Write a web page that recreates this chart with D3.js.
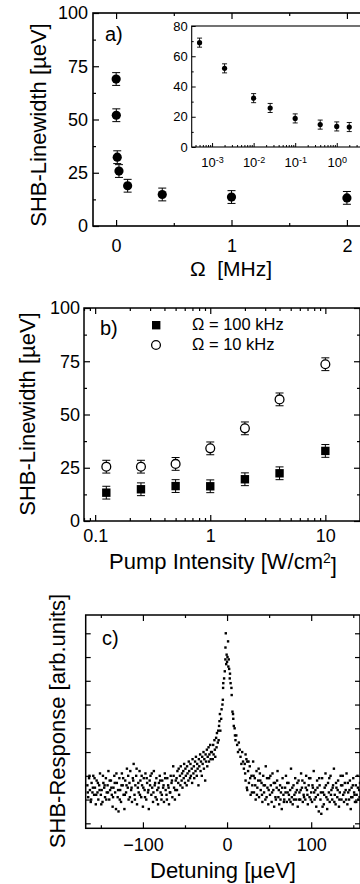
<!DOCTYPE html>
<html>
<head>
<meta charset="utf-8">
<script src="https://cdn.jsdelivr.net/npm/d3@7"></script>
<style>
  body { margin: 0; background: #fff; }
  svg { display: block; }
</style>
</head>
<body>
<script>
// ---- panel a: linewidth vs modulation frequency ----
const omegaMHz = [0.0005, 0.002, 0.01, 0.025, 0.1, 0.4, 1, 2];
const linewidthA = [69, 52, 32.3, 25.8, 18.9, 14.8, 13.6, 13.2];
const errA = [3, 3, 3, 3, 3, 3, 3, 3];

// ---- panel b: linewidth vs pump intensity ----
const pumpIntensity = [0.125, 0.25, 0.5, 1, 2, 4, 10];
const lw100kHz = [13.3, 14.9, 16.4, 16.3, 19.6, 22.4, 32.9];
const lw10kHz = [25.5, 25.5, 26.8, 34.1, 43.5, 57.1, 73.6];
const errB = [3, 3, 3, 3, 3, 3, 3];
const legendB = ['\u03a9 = 100 kHz', '\u03a9 = 10 kHz'];

// ---- panel c: SHB response scan [detuning ueV, response arb.] ----
const leftWing = [
  [-166,1.6],[-165,1.1],[-164,1.9],[-163,1.4],[-162,0.9],[-161,1.7],[-160,1.3],[-159,2.0],[-158,1.2],[-157,1.5],
  [-156,0.8],[-155,1.8],[-154,1.3],[-153,1.0],[-152,1.6],[-151,2.1],[-150,1.2],[-149,1.4],[-148,0.9],[-147,1.7],
  [-146,1.5],[-145,1.1],[-144,1.9],[-143,1.3],[-142,1.6],[-141,2.2],[-140,1.0],[-139,1.4],[-138,1.8],[-137,1.2],
  [-136,0.7],[-135,1.5],[-134,2.0],[-133,1.3],[-132,0.6],[-131,1.7],[-130,1.1],[-129,0.5],[-128,1.9],[-127,1.4],
  [-126,0.9],[-125,2.1],[-124,1.6],[-123,1.2],[-122,0.6],[-121,1.8],[-120,1.3],[-119,2.3],[-118,1.5],[-117,1.0],
  [-116,1.7],[-115,2.2],[-114,1.4],[-113,0.9],[-112,1.9],[-111,2.5],[-110,1.2],[-109,1.6],[-108,2.0],[-107,0.8],
  [-106,1.5],[-105,1.3],[-104,2.2],[-103,1.8],[-102,1.1],[-101,1.6],[-100,0.7],[-99,1.9],[-98,1.4],[-97,2.1],
  [-96,1.0],[-95,1.7],[-94,1.3],[-93,0.6],[-92,1.8],[-91,2.0],[-90,1.2],[-89,1.5],[-88,0.9],[-87,2.2],
  [-86,1.6],[-85,1.1],[-84,1.9],[-83,1.4],[-82,0.8],[-81,1.7],[-80,2.0],[-79,1.3],[-78,1.0],[-77,1.8],
  [-76,1.5],[-75,0.9],[-74,2.1],[-73,1.4],[-72,1.2],[-71,1.9],[-70,1.6],[-69,0.8],[-68,1.3],[-67,2.0],
  [-66,1.7],[-65,1.1],[-64,2.4],[-63,1.5],[-62,1.0],[-61,1.8],
  [-165.5,1.3],[-163.5,2.0],[-161.5,1.0],[-159.5,1.5],[-157.5,1.9],[-155.5,1.2],[-153.5,1.7],[-151.5,1.4],
  [-149.5,0.8],[-147.5,2.0],[-145.5,1.6],[-143.5,1.0],[-141.5,1.3],[-139.5,1.8],[-137.5,1.5],[-135.5,1.1],
  [-133.5,1.7],[-131.5,2.1],[-129.5,1.4],[-127.5,1.0],[-125.5,1.6],[-123.5,1.9],[-121.5,1.2],[-119.5,1.6],
  [-117.5,2.0],[-115.5,1.1],[-113.5,1.5],[-111.5,1.8],[-109.5,1.0],[-107.5,2.3],[-105.5,1.7],[-103.5,1.2],
  [-101.5,2.0],[-99.5,1.5],[-97.5,1.1],[-95.5,1.9],[-93.5,1.4],[-91.5,1.6],[-89.5,2.1],[-87.5,1.3],
  [-85.5,1.7],[-83.5,1.0],[-81.5,1.5],[-79.5,1.8],[-77.5,1.2],[-75.5,1.6],[-73.5,1.9],[-71.5,1.0],
  [-69.5,1.5],[-67.5,1.3],[-65.5,1.8],[-63.5,2.0],[-61.5,1.4],
  [-60,1.9],[-59.5,1.4],[-59,2.2],[-58,1.7],[-57.5,2.3],[-57,1.2],[-56,2.0],[-55.5,1.6],[-55,2.4],[-54,1.8],
  [-53.5,2.1],[-53,1.5],[-52,2.2],[-51.5,1.9],[-51,2.5],[-50,1.7],[-49.5,2.3],[-49,2.0],[-48,1.6],[-47.5,2.4],
  [-47,2.1],[-46,1.8],[-45.5,2.6],[-45,2.2],[-44,1.9],[-43.5,2.5],[-43,2.0],[-42,2.3],[-41.5,1.7],[-41,2.7],
  [-40,2.1],[-39.5,2.4],[-39,1.9],[-38,2.6],[-37.5,2.2],[-37,2.8],[-36,2.0],[-35.5,2.5],[-35,2.3],[-34,1.6],
  [-33.5,2.7],[-33,2.4],[-32,2.9],[-31.5,2.2],[-31,2.6],[-30,2.0],[-29.5,2.8],[-29,2.5],[-28,3.0],[-27.5,2.3],
  [-27,2.7],[-26,1.8],[-25.5,2.9],[-25,2.6],[-24,3.1],[-23.5,2.4],[-23,2.8],[-22,3.2],[-21.5,2.6],[-21,2.9],
  [-20,3.3],[-19.5,2.7],[-19,3.0]
];
const peakPoints = [
  [-18,3.0],[-17,2.7],[-16.5,3.3],[-16,2.9],[-15,3.5],[-14.5,3.1],[-14,2.8],[-13,3.6],[-12.5,3.2],[-12,3.8],
  [-11,3.4],[-10.5,3.9],[-10,3.5],[-9.5,4.1],[-9,4.3],[-8.5,4.6],[-8,3.9],[-7,4.4],[-6.5,4.8],[-5.5,5.0],
  [-5,5.2],[-4.7,5.7],[-4.5,5.9],[-3.5,6.1],[-2.7,6.4],[-2,6.9],[-1.9,7.4],[-1.5,8.0],[-1,6.7],[-0.5,7.1],
  [0,6.8],[0.5,7.0],[1.2,7.66],[1.5,6.6],[2,6.9],[2.5,6.5],[3.2,6.1],[3.5,6.3],[4.2,5.9],[5.2,5.7],
  [5.5,5.4],[6.4,4.7],[7.1,4.6],[7.4,4.4],[8,4.1],[9,4.0],[9.4,3.7],[10,3.5],[11,3.7],[12,3.3],
  [13,3.0],[14,3.4],[15,3.1],[16,2.8],[17,2.5],[18,3.0],[19,2.6],[20,2.3],[22,2.9],[24,2.6]
];
const rightWing = [
  [21,2.5],[22,1.8],[23,2.7],[24,1.4],[25,2.2],[26,1.7],[27,2.4],[28,1.2],[29,2.0],[30,1.6],
  [31,2.6],[32,1.3],[33,1.9],[34,1.0],[35,2.2],[36,1.5],[37,1.8],[38,1.1],[39,2.1],[40,1.4],
  [41,1.7],[42,0.9],[43,2.0],[44,1.3],[45,1.6],[46,2.4],[47,1.1],[48,1.5],[49,0.8],[50,1.9],
  [51,1.2],[52,1.6],[53,0.9],[54,2.1],[55,1.4],[56,0.7],[57,1.7],[58,1.0],[59,1.5],[60,2.2],
  [61,1.1],[62,0.8],[63,1.6],[64,1.3],[65,0.6],[66,1.9],[67,1.2],[68,1.0],[69,1.5],[70,2.0],
  [71,0.9],[72,1.3],[73,1.7],[74,1.0],[75,1.4],[76,2.3],[77,1.1],[78,0.8],[79,1.6],[80,1.2],
  [81,1.9],[82,1.0],[83,1.4],[84,0.7],[85,1.8],[86,1.3],[87,1.0],[88,2.1],[89,1.5],[90,0.9],
  [91,1.2],[92,1.7],[93,1.0],[94,2.0],[95,1.4],[96,0.8],[97,1.6],[98,1.1],[99,1.9],[100,1.3],
  [101,0.9],[102,1.5],[103,2.2],[104,1.0],[105,1.4],[106,0.7],[107,1.8],[108,1.2],[109,0.5],[110,1.6],
  [111,1.0],[112,0.4],[113,1.9],[114,1.3],[115,0.8],[116,1.5],[117,2.1],[118,1.1],[119,0.6],[120,1.7],
  [121,1.3],[122,0.9],[123,2.0],[124,1.4],[125,1.0],[126,1.6],[127,2.3],[128,1.2],[129,0.8],[130,1.5],
  [131,1.1],[132,1.8],[133,0.7],[134,1.3],[135,2.0],[136,1.0],[137,1.6],[138,1.2],[139,0.9],[140,1.7],
  [141,1.4],[142,2.1],[143,0.8],[144,1.3],[145,1.0],[146,1.8],[147,0.6],[148,1.5],[149,1.1],[150,1.9],
  [151,1.3],[152,0.9],[153,1.6],[154,1.2],[155,2.0],[156,1.0],[157,1.4],[158,1.7],
  [21.5,2.1],[23.5,1.5],[25.5,2.6],[27.5,1.9],[29.5,1.3],[31.5,2.0],[33.5,1.6],[35.5,1.2],[37.5,2.3],[39.5,1.8],
  [41.5,1.2],[43.5,1.6],[45.5,1.0],[47.5,1.9],[49.5,1.4],[51.5,2.0],[53.5,1.3],[55.5,1.7],[57.5,1.1],[59.5,1.8],
  [61.5,1.4],[63.5,1.0],[65.5,1.5],[67.5,0.9],[69.5,1.3],[71.5,1.7],[73.5,1.2],[75.5,0.9],[77.5,1.5],[79.5,1.0],
  [81.5,1.3],[83.5,1.7],[85.5,1.0],[87.5,1.4],[89.5,1.8],[91.5,1.1],[93.5,1.5],[95.5,1.2],[97.5,1.9],[99.5,1.0],
  [101.5,1.6],[103.5,1.3],[105.5,1.1],[107.5,1.5],[109.5,1.9],[111.5,1.3],[113.5,0.7],[115.5,1.2],[117.5,1.6],[119.5,1.0],
  [121.5,1.9],[123.5,1.2],[125.5,1.5],[127.5,0.9],[129.5,1.7],[131.5,1.4],[133.5,1.0],[135.5,1.6],[137.5,2.0],[139.5,1.3],
  [141.5,1.0],[143.5,1.7],[145.5,1.4],[147.5,1.1],[149.5,1.6],[151.5,1.2],[153.5,0.9],[155.5,1.5],[157.5,1.1]
];

const FONT = '"Liberation Sans", Arial, Helvetica, sans-serif';

const svg = d3.select('body').append('svg')
  .attr('width', 360)
  .attr('height', 884)
  .attr('font-family', FONT);

// inward-pointing axis helper (major + optional minor ticks)
function addAxis(parent, axisGen, scale, pos, opt) {
  const horiz = axisGen === d3.axisBottom || axisGen === d3.axisTop;
  const tr = horiz ? `translate(0,${pos})` : `translate(${pos},0)`;
  const g = parent.append('g').attr('transform', tr)
    .call(axisGen(scale)
      .tickValues(opt.major)
      .tickSize(-(opt.size || 6))
      .tickPadding(opt.pad || 4)
      .tickFormat(opt.format || (() => '')));
  g.select('.domain').remove();
  g.attr('font-family', FONT).attr('font-size', opt.font || 18);
  g.selectAll('line').attr('stroke-width', opt.lw || 1.2);
  g.selectAll('text').attr('fill', '#000');
  if (opt.minor) {
    const m = parent.append('g').attr('transform', tr)
      .call(axisGen(scale).tickValues(opt.minor).tickSize(-(opt.minorSize || 3)).tickFormat(() => ''));
    m.select('.domain').remove();
    m.selectAll('line').attr('stroke-width', opt.lw || 1.2);
  }
  return g;
}

function frame(parent, x, y, sw) {
  const [x0, x1] = x.range();
  const [y0, y1] = y.range();
  parent.append('rect')
    .attr('x', x0).attr('y', y1)
    .attr('width', x1 - x0).attr('height', y0 - y1)
    .attr('fill', 'none').attr('stroke', '#000').attr('stroke-width', sw || 1.5);
}

function errorBars(parent, xs, ys, es, x, y, cap, sw) {
  const g = parent.append('g').attr('stroke', '#000').attr('stroke-width', sw || 1);
  xs.forEach((xv, i) => {
    const cx = x(xv);
    g.append('line').attr('x1', cx).attr('x2', cx).attr('y1', y(ys[i] - es[i])).attr('y2', y(ys[i] + es[i]));
    [ys[i] - es[i], ys[i] + es[i]].forEach(v => {
      g.append('line').attr('x1', cx - cap / 2).attr('x2', cx + cap / 2).attr('y1', y(v)).attr('y2', y(v));
    });
  });
}

function logMinor(lo, hi) {
  const out = [];
  for (let e = Math.floor(Math.log10(lo)); e <= Math.ceil(Math.log10(hi)); e++) {
    for (let k = 2; k <= 9; k++) {
      const v = k * Math.pow(10, e);
      if (v >= lo && v <= hi) out.push(v);
    }
  }
  return out;
}

// ================= panel a =================
const gA = svg.append('g');
const xA = d3.scaleLinear().domain([-0.2, 2.2]).range([93, 370]);
const yA = d3.scaleLinear().domain([0, 100]).range([226, 13]);

addAxis(gA, d3.axisBottom, xA, 226, { major: [0, 1, 2], minor: [0.5, 1.5], pad: 13, format: d3.format('d') });
addAxis(gA, d3.axisTop, xA, 13, { major: [0, 1, 2], minor: [0.5, 1.5] });
addAxis(gA, d3.axisLeft, yA, 93, { major: [0, 25, 50, 75, 100], minor: [12.5, 37.5, 62.5, 87.5], pad: 5, format: d3.format('d') });
frame(gA, xA, yA, 1.6);

errorBars(gA, omegaMHz, linewidthA, errA, xA, yA, 8, 1);
gA.append('g').selectAll('circle')
  .data(omegaMHz)
  .join('circle')
  .attr('cx', d => xA(d))
  .attr('cy', (d, i) => yA(linewidthA[i]))
  .attr('r', 4.6)
  .attr('fill', '#000');

gA.append('text').attr('x', 105).attr('y', 41).attr('font-size', 20).text('a)');
gA.append('text').attr('x', 231).attr('y', 276).attr('text-anchor', 'middle').attr('font-size', 21)
  .attr('xml:space', 'preserve').text('\u03a9  [MHz]');
gA.append('text').attr('transform', 'translate(46,125) rotate(-90)').attr('text-anchor', 'middle')
  .attr('font-size', 22).text('SHB-Linewidth [\u00b5eV]');

// inset (log axis)
const gI = svg.append('g');
const xI = d3.scaleLog().domain([Math.pow(10, -3.49), Math.pow(10, 0.8)]).range([191.7, 370]);
const yI = d3.scaleLinear().domain([0, 80]).range([147, 26]);
gI.append('rect').attr('x', 191.7).attr('y', 26).attr('width', 178).attr('height', 121).attr('fill', '#fff');
const ixAxis = addAxis(gI, d3.axisBottom, xI, 147, {
  major: [1e-3, 1e-2, 1e-1, 1e0], minor: logMinor(xI.domain()[0], xI.domain()[1]),
  size: 4, minorSize: 2, pad: 11, font: 13, lw: 1,
  format: d => String(Math.round(Math.log10(d)))
});
ixAxis.selectAll('text').each(function () {
  const t = d3.select(this);
  const exp = t.text();
  t.text(null);
  t.append('tspan').text('10');
  t.append('tspan').attr('dy', '-0.5em').attr('font-size', 9).text(exp);
});
addAxis(gI, d3.axisLeft, yI, 191.7, { major: [0, 20, 40, 60, 80], minor: [10, 30, 50, 70], size: 4, minorSize: 2, pad: 4, font: 13, lw: 1, format: d3.format('d') });
frame(gI, xI, yI, 1.1);
errorBars(gI, omegaMHz, linewidthA, errA, xI, yI, 5, 0.9);
gI.append('g').selectAll('circle')
  .data(omegaMHz)
  .join('circle')
  .attr('cx', d => xI(d))
  .attr('cy', (d, i) => yI(linewidthA[i]))
  .attr('r', 2.6)
  .attr('fill', '#000');

// ================= panel b =================
const gB = svg.append('g');
const xB = d3.scaleLog().domain([0.08, 20]).range([84, 360]);
const yB = d3.scaleLinear().domain([0, 100]).range([521, 308]);
const minorB = logMinor(0.08, 20);
const yMajB = [0, 25, 50, 75, 100], yMinB = [12.5, 37.5, 62.5, 87.5];

addAxis(gB, d3.axisBottom, xB, 521, { major: [0.1, 1, 10], minor: minorB, pad: 8, format: d => String(d) });
addAxis(gB, d3.axisTop, xB, 308, { major: [0.1, 1, 10], minor: minorB });
addAxis(gB, d3.axisLeft, yB, 84, { major: yMajB, minor: yMinB, pad: 4, format: d3.format('d') });
addAxis(gB, d3.axisRight, yB, 360, { major: yMajB, minor: yMinB });
frame(gB, xB, yB, 1.5);

errorBars(gB, pumpIntensity, lw10kHz, errB, xB, yB, 8, 1);
errorBars(gB, pumpIntensity, lw100kHz, errB, xB, yB, 8, 1);
gB.append('g').selectAll('circle')
  .data(pumpIntensity)
  .join('circle')
  .attr('cx', d => xB(d))
  .attr('cy', (d, i) => yB(lw10kHz[i]))
  .attr('r', 4.4)
  .attr('fill', '#fff').attr('stroke', '#000').attr('stroke-width', 1.3);
gB.append('g').selectAll('rect')
  .data(pumpIntensity)
  .join('rect')
  .attr('x', d => xB(d) - 4.2)
  .attr('y', (d, i) => yB(lw100kHz[i]) - 4.2)
  .attr('width', 8.4).attr('height', 8.4)
  .attr('fill', '#000');

// legend
gB.append('rect').attr('x', 152).attr('y', 321).attr('width', 8.4).attr('height', 8.4).attr('fill', '#000');
gB.append('circle').attr('cx', 156).attr('cy', 345).attr('r', 4.4)
  .attr('fill', '#fff').attr('stroke', '#000').attr('stroke-width', 1.3);
gB.append('text').attr('x', 192).attr('y', 330).attr('font-size', 16.5).text(legendB[0]);
gB.append('text').attr('x', 192).attr('y', 350).attr('font-size', 16.5).text(legendB[1]);

gB.append('text').attr('x', 100).attr('y', 335).attr('font-size', 20).text('b)');
const tB = gB.append('text').attr('x', 223).attr('y', 569).attr('text-anchor', 'middle').attr('font-size', 22);
tB.append('tspan').text('Pump Intensity [W/cm');
tB.append('tspan').attr('dy', '-0.45em').attr('font-size', 14).text('2');
tB.append('tspan').attr('dy', '0.45em').text(']');
gB.append('text').attr('transform', 'translate(35,414) rotate(-90)').attr('text-anchor', 'middle')
  .attr('font-size', 22).text('SHB-Linewidth [\u00b5eV]');

// ================= panel c =================
const gC = svg.append('g');
const xC = d3.scaleLinear().domain([-168, 158]).range([85.7, 360]);
const yC = d3.scaleLinear().domain([-0.21, 8.77]).range([828.3, 615]);
const yTicksC = [0, 1, 2, 3, 4, 5, 6, 7, 8];

addAxis(gC, d3.axisBottom, xC, 828.3, { major: [-100, 0, 100], minor: [-150, -50, 50, 150], pad: 10, format: d3.format('d') });
addAxis(gC, d3.axisTop, xC, 615, { major: [-100, 0, 100], minor: [-150, -50, 50, 150] });
addAxis(gC, d3.axisLeft, yC, 85.7, { major: yTicksC, size: 5 });
addAxis(gC, d3.axisRight, yC, 360, { major: yTicksC, size: 5 });
frame(gC, xC, yC, 1.5);

const scan = leftWing.concat(peakPoints, rightWing);
gC.append('g').selectAll('rect')
  .data(scan)
  .join('rect')
  .attr('x', d => xC(d[0]) - 1.2)
  .attr('y', d => yC(d[1]) - 1.2)
  .attr('width', 2.4).attr('height', 2.4)
  .attr('fill', '#000');

gC.append('text').attr('x', 102).attr('y', 645).attr('font-size', 20).text('c)');
gC.append('text').attr('x', 223).attr('y', 878).attr('text-anchor', 'middle').attr('font-size', 22)
  .text('Detuning [\u00b5eV]');
gC.append('text').attr('transform', 'translate(65,721) rotate(-90)').attr('text-anchor', 'middle')
  .attr('font-size', 22).text('SHB-Response [arb.units]');
</script>
</body>
</html>
